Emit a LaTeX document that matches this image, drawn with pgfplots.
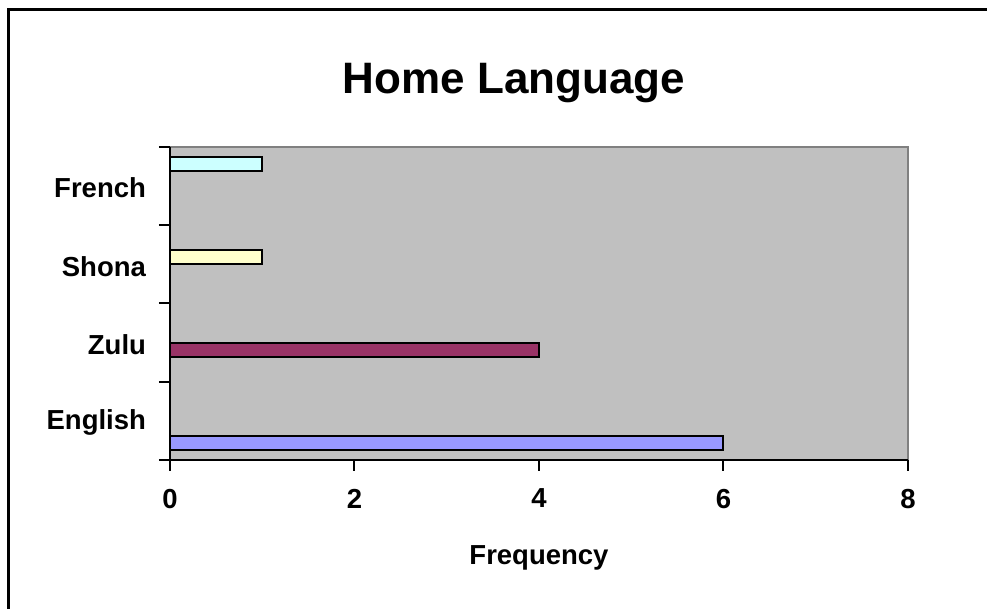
\documentclass[border=0pt]{standalone}
\usepackage{fontspec}
\setmainfont{Liberation Sans}
\usepackage{pgfplots}
\pgfplotsset{compat=1.18}

\definecolor{plotbg}{HTML}{C0C0C0}
\definecolor{plotedge}{HTML}{808080}
\definecolor{cEnglish}{HTML}{9999FF}
\definecolor{cZulu}{HTML}{993366}
\definecolor{cShona}{HTML}{FFFFCC}
\definecolor{cFrench}{HTML}{CCFFFF}

\begin{document}
\begin{tikzpicture}
% page frame (1px of the reference = 0.5pt)
\path[use as bounding box] (0,0) rectangle (493.5pt,304.5pt);
\draw[line width=1.5pt] (4.25pt,0) -- (4.25pt,299.75pt) -- (493.5pt,299.75pt);

\node[anchor=base, font=\fontsize{22}{26}\selectfont\bfseries] at (257pt,257.5pt) {Home Language};

\begin{axis}[
    at={(85pt,74.5pt)}, anchor=south west,
    scale only axis,
    width=369pt, height=156.5pt,
    xmin=0, xmax=8,
    ymin=-0.5, ymax=3.5,
    axis x line*=bottom,
    axis y line*=left,
    axis line style={line width=1pt, black},
    axis background/.style={fill=plotbg, draw=plotedge, line width=1pt},
    xtick={0,2,4,6,8},
    ytick={0,1,2,3},
    yticklabels={English,Zulu,Shona,French},
    minor ytick={-0.5,0.5,1.5,2.5,3.5},
    tick align=outside,
    major tick length=5.5pt,
    minor tick length=5.5pt,
    every tick/.style={line width=1pt, black},
    major y tick style={draw=none},
    tick label style={font=\fontsize{13.75}{16}\selectfont\bfseries},
    /pgf/number format/assume math mode=true,
    xticklabel style={yshift=-5.5pt},
    yticklabel style={xshift=-3pt, yshift=-1pt},
    xlabel={Frequency},
    xlabel style={font=\fontsize{13.75}{16}\selectfont\bfseries, at={(axis description cs:0.5,0)}, anchor=center, yshift=-49pt},
    clip=false,
]
\addplot[xbar, bar width=0.18, bar shift=-0.279, fill=cEnglish, draw=black, line width=1pt] coordinates {(6,0)};
\addplot[xbar, bar width=0.18, bar shift=-0.093, fill=cZulu, draw=black, line width=1pt] coordinates {(4,1)};
\addplot[xbar, bar width=0.18, bar shift=0.093, fill=cShona, draw=black, line width=1pt] coordinates {(1,2)};
\addplot[xbar, bar width=0.18, bar shift=0.279, fill=cFrench, draw=black, line width=1pt] coordinates {(1,3)};
\end{axis}
\end{tikzpicture}
\end{document}
